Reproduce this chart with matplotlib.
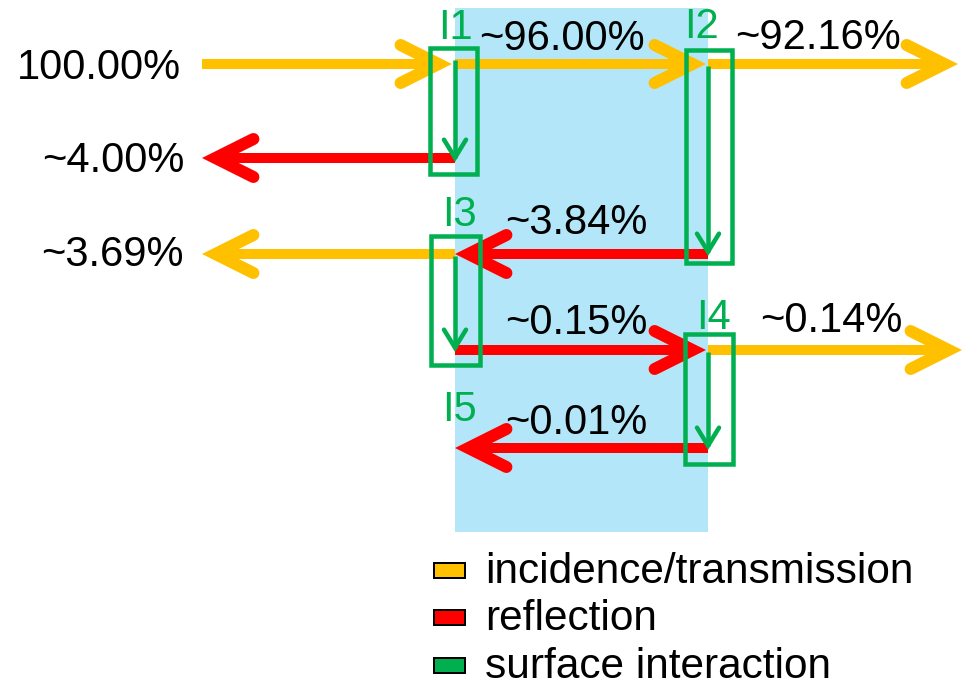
import math
import matplotlib
matplotlib.use("Agg")
import matplotlib.pyplot as plt
from matplotlib.patches import Rectangle

plt.rcParams["font.family"] = ["Liberation Sans", "DejaVu Sans"]

# fractions of the incoming beam (percent)
beam_labels = ["incident", "I1 transmitted", "I2 transmitted", "I1 reflected",
               "I2 reflected", "I3 transmitted", "I3 reflected", "I4 transmitted",
               "I4 reflected"]
beam_values = [100.00, 96.00, 92.16, 4.00, 3.84, 3.69, 0.15, 0.14, 0.01]
beam_kind = ["t", "t", "t", "r", "r", "t", "r", "t", "r"]
interfaces = ["I1", "I2", "I3", "I4", "I5"]
legend_labels = ["incidence/transmission", "reflection", "surface interaction"]

YELLOW = "#FFC000"
RED = "#FF0000"
GREEN = "#00B050"
BLUE = "#B3E6F8"

PX = 72 / 100  # px -> pt at dpi 100

fig = plt.figure(figsize=(9.68, 6.87), dpi=100)
ax = fig.add_axes([0, 0, 1, 1])
ax.set_xlim(0, 968)
ax.set_ylim(687, 0)
ax.axis("off")

# layout (pixels)
XL, XA, XB, XR = 202, 455, 708, 960
beam_geom = [
    (XL, 64, XA - 3, 64),
    (XA, 64, XB - 2, 64),
    (XB, 64, XR - 2, 64),
    (XA, 158, XL, 158),
    (XB, 254, XA, 254),
    (XA, 254, XL, 254),
    (XA, 350, XB - 2, 350),
    (XB, 350, XR + 2, 350),
    (XB, 448, XA, 448),
]
text_pos = [
    (181, 68, "right"), (479, 39, "left"), (735, 38, "left"),
    (184, 161, "right"), (505, 223, "left"), (184, 255, "right"),
    (505, 323, "left"), (760, 321, "left"), (505, 423, "left"),
]

ax.add_patch(Rectangle((XA, 8), XB - XA, 524, facecolor=BLUE, edgecolor="none", zorder=0))


def arrow(x0, y0, x1, y1, color, lw, hl, hw, alw):
    # pull the apex back so the mitred tip lands on (x1, y1)
    off = (alw / 2) / math.sin(math.atan2(hw, hl))
    if y0 == y1:
        d = 1 if x1 > x0 else -1
        tx, ty = x1 - d * off, y1
        bx = tx - d * hl
        arms = [(bx, ty - hw), (tx, ty), (bx, ty + hw)]
    else:
        tx, ty = x1, y1 - off
        by = ty - hl
        arms = [(tx - hw, by), (tx, ty), (tx + hw, by)]
    ax.plot([x0, tx], [y0, ty], color=color, lw=lw * PX, solid_capstyle="butt", zorder=2)
    ax.plot([p[0] for p in arms], [p[1] for p in arms], color=color, lw=alw * PX,
            solid_capstyle="round", solid_joinstyle="miter", zorder=2)


for (x0, y0, x1, y1), k in zip(beam_geom, beam_kind):
    arrow(x0, y0, x1, y1, YELLOW if k == "t" else RED, 10, 38, 19, 12)

for (x, y, ha), v in zip(text_pos, beam_values):
    s = f"{v:.2f}%" if v == 100 else f"~{v:.2f}%"
    ax.text(x, y, s, fontsize=30, ha=ha, va="center", color="black", zorder=5)

# surface interaction boxes and arrows
boxes = [(430, 48, 47, 126), (686, 50, 46, 213), (431, 236, 49, 129), (685, 334, 48, 130)]
surf = [(XA, 60, 162), (XB, 66, 256), (XA, 256, 352), (XB, 352, 450)]
for (bx, by, bw, bh) in boxes:
    ax.add_patch(Rectangle((bx, by), bw, bh, facecolor="none", edgecolor=GREEN,
                           lw=4.5 * PX, zorder=3))
for (x, ya, yb) in surf:
    arrow(x, ya, x, yb, GREEN, 4.5, 18, 11, 4.5)

label_pos = [(455, 28), (702, 27), (459, 215), (713, 318), (459, 410)]
for (x, y), lab in zip(label_pos, interfaces):
    ax.text(x, y, lab, fontsize=30, ha="center", va="center", color=GREEN, zorder=5)

# legend
for i, (lab, c) in enumerate(zip(legend_labels, [YELLOW, RED, GREEN])):
    y = 570 + i * 47.5
    ax.add_patch(Rectangle((434, y - 7.5), 31, 15, facecolor=c, edgecolor="black",
                           lw=2 * PX, zorder=4))
    ax.text(485, y + 2, lab, fontsize=30.5, ha="left", va="center", color="black")

fig.savefig("out.png", dpi=100)
